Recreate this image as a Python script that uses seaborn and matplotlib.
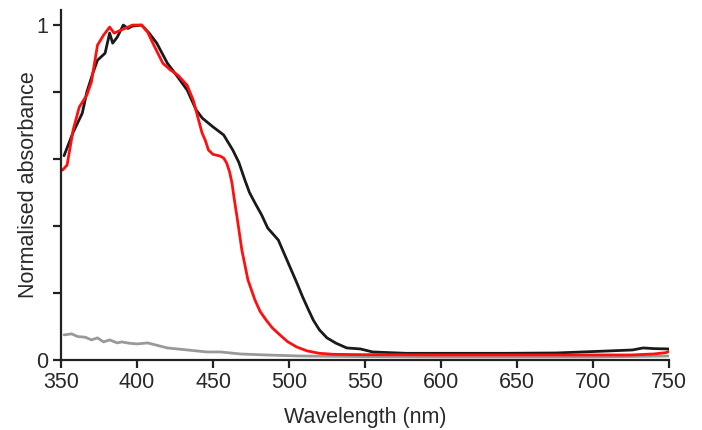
import numpy as np
import pandas as pd
import matplotlib
matplotlib.use("Agg")
import matplotlib.pyplot as plt
import seaborn as sns

# values
black_nm = [352, 358, 364, 367, 371, 374, 379, 382, 384, 387, 391, 394, 397, 403,
            408, 413, 420, 426, 433, 439, 443, 450, 457, 463, 467, 471, 474, 477.6,
            482, 486, 493, 500.6, 505, 509, 513, 516, 520, 525, 531, 538, 547, 555,
            577, 599, 643, 676, 693, 710, 726, 733, 740, 750]
black_abs = [0.61, 0.68, 0.737, 0.80, 0.857, 0.895, 0.916, 0.976, 0.946, 0.964, 1.0,
             0.99, 0.997, 1.0, 0.976, 0.946, 0.886, 0.85, 0.806, 0.746, 0.722, 0.696,
             0.672, 0.627, 0.59, 0.537, 0.50, 0.469, 0.433, 0.394, 0.358, 0.278,
             0.232, 0.188, 0.148, 0.119, 0.09, 0.066, 0.05, 0.036, 0.033, 0.024,
             0.02, 0.02, 0.02, 0.021, 0.024, 0.027, 0.03, 0.036, 0.034, 0.033]

red_nm = [351, 354, 358, 362, 367, 370, 374, 378, 382, 385, 391, 397, 403, 407,
          410, 417, 422, 427, 433, 437, 440, 442.8, 445, 447, 450, 454.6, 457, 459,
          461, 462.5, 464, 465.8, 469, 473, 477.6, 481, 485, 489, 494, 499, 505,
          512, 520, 529, 547, 600, 650, 700, 725, 740, 748, 750]
red_abs = [0.567, 0.582, 0.687, 0.755, 0.791, 0.83, 0.94, 0.97, 0.994, 0.976, 0.988,
           1.0, 1.0, 0.979, 0.95, 0.886, 0.866, 0.85, 0.82, 0.776, 0.725, 0.678,
           0.655, 0.627, 0.614, 0.609, 0.603, 0.588, 0.56, 0.528, 0.48, 0.427,
           0.328, 0.239, 0.179, 0.145, 0.119, 0.096, 0.075, 0.055, 0.039, 0.027,
           0.02, 0.017, 0.016, 0.015, 0.015, 0.015, 0.015, 0.018, 0.022, 0.026]

gray_nm = [352, 357, 361, 366, 370, 374, 378, 382, 387, 390, 395, 400, 407, 420,
           433, 446, 455, 468, 485, 507, 550, 600, 650, 700, 750]
gray_abs = [0.075, 0.078, 0.07, 0.068, 0.06, 0.066, 0.054, 0.06, 0.051, 0.054,
            0.05, 0.048, 0.051, 0.036, 0.03, 0.024, 0.024, 0.018, 0.015, 0.012,
            0.01, 0.009, 0.009, 0.009, 0.012]

sns.set_style("ticks")
plt.rcParams['font.family'] = ['Liberation Sans', 'DejaVu Sans']

fig = plt.figure(figsize=(7.02, 4.30), dpi=100)
ax = fig.add_axes([61 / 702, 70 / 430, 608 / 702, 350 / 430])

sns.lineplot(x=gray_nm, y=gray_abs, color="#999999", lw=2, ax=ax)
sns.lineplot(x=black_nm, y=black_abs, color="#1a1a1a", lw=2, ax=ax)
sns.lineplot(x=red_nm, y=red_abs, color="#ff1010", lw=2, ax=ax)

ax.set_xlim(350, 750)
ax.set_ylim(0, 1.045)
ax.set_xticks(np.arange(350, 751, 50))
ax.set_yticks([0, 0.2, 0.4, 0.6, 0.8, 1.0])
ax.set_yticklabels(["0", "", "", "", "", "1"])
sns.despine(ax=ax)
for s in ["left", "bottom"]:
    ax.spines[s].set_linewidth(1.6)
    ax.spines[s].set_color("#222222")
ax.tick_params(axis="both", length=6, width=1.6, color="#222222",
               labelsize=15.5, labelcolor="#2a2a2a", pad=3)
ax.set_xlabel("Wavelength (nm)", fontsize=15.5, color="#2a2a2a", labelpad=10)
ax.set_ylabel("Normalised absorbance", fontsize=15.5, color="#2a2a2a", labelpad=-2)

fig.savefig("out.png", dpi=100)
